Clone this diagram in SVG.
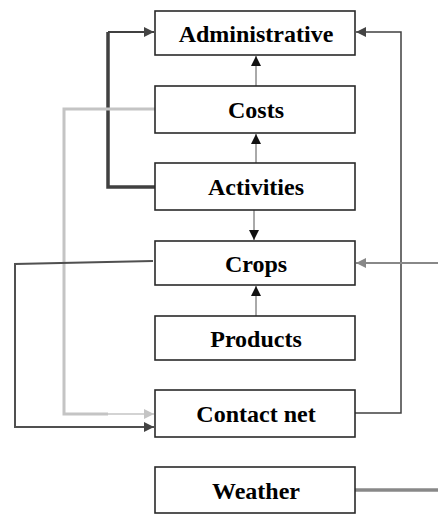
<svg xmlns="http://www.w3.org/2000/svg" width="438" height="514" viewBox="0 0 438 514">
<style>
.box{fill:#fff;stroke:#2a2a2a;stroke-width:1.6}
.lbl{font-family:"Liberation Serif","Times New Roman",serif;font-weight:bold;font-size:24px;fill:#000;text-anchor:middle}
.c{fill:none}
</style>
<defs>
<marker id="ab" viewBox="0 0 10 10" refX="10" refY="5" markerWidth="10" markerHeight="10" markerUnits="userSpaceOnUse" orient="auto"><path d="M0,0 L10,5 L0,10 z" fill="#111"/></marker>
<marker id="ad" viewBox="0 0 10 10" refX="10" refY="5" markerWidth="10" markerHeight="10" markerUnits="userSpaceOnUse" orient="auto"><path d="M0,0 L10,5 L0,10 z" fill="#444"/></marker>
<marker id="al" viewBox="0 0 10 10" refX="10" refY="5" markerWidth="10" markerHeight="10" markerUnits="userSpaceOnUse" orient="auto"><path d="M0,0 L10,5 L0,10 z" fill="#c4c4c4"/></marker>
<marker id="ag" viewBox="0 0 10 10" refX="10" refY="5" markerWidth="10" markerHeight="10" markerUnits="userSpaceOnUse" orient="auto"><path d="M0,0 L10,5 L0,10 z" fill="#888"/></marker>
</defs>
<g id="connectors" class="c">
<path d="M256,86 V56" stroke="#555" stroke-width="1" marker-end="url(#ab)"/>
<path d="M256,163 V134" stroke="#555" stroke-width="1" marker-end="url(#ab)"/>
<path d="M254,210 V240" stroke="#555" stroke-width="1" marker-end="url(#ab)"/>
<path d="M256,316 V286" stroke="#555" stroke-width="1" marker-end="url(#ab)"/>
<path d="M155,187 H108 V32" stroke="#404040" stroke-width="3.5" fill="none"/>
<path d="M108,32 H154" stroke="#404040" stroke-width="2" marker-end="url(#ad)"/>
<path d="M155,109 H64 V414 H108" stroke="#c4c4c4" stroke-width="3" fill="none"/>
<path d="M108,414 H154" stroke="#c4c4c4" stroke-width="1.6" marker-end="url(#al)"/>
<path d="M153,261 L15,264 V427 H154" stroke="#505050" stroke-width="2" marker-end="url(#ad)"/>
<path d="M355,413 H401 V32 H356" stroke="#404040" stroke-width="1.5" marker-end="url(#ad)"/>
<path d="M438,263 H356" stroke="#888" stroke-width="2" marker-end="url(#ag)"/>
<path d="M355,490 H438" stroke="#888" stroke-width="3.5"/>
</g>
<g id="administrative"><rect class="box" x="155" y="11" width="200" height="44"/><text class="lbl" x="256" y="42">Administrative</text></g>
<g id="costs"><rect class="box" x="155" y="86" width="200" height="47"/><text class="lbl" x="256" y="118">Costs</text></g>
<g id="activities"><rect class="box" x="155" y="163" width="200" height="47"/><text class="lbl" x="256" y="195">Activities</text></g>
<g id="crops"><rect class="box" x="155" y="241" width="200" height="44"/><text class="lbl" x="256" y="272">Crops</text></g>
<g id="products"><rect class="box" x="155" y="316" width="200" height="44"/><text class="lbl" x="256" y="347">Products</text></g>
<g id="contact-net"><rect class="box" x="155" y="390" width="200" height="47"/><text class="lbl" x="256" y="422">Contact net</text></g>
<g id="weather"><rect class="box" x="155" y="467" width="200" height="46"/><text class="lbl" x="256" y="499">Weather</text></g>
</svg>
